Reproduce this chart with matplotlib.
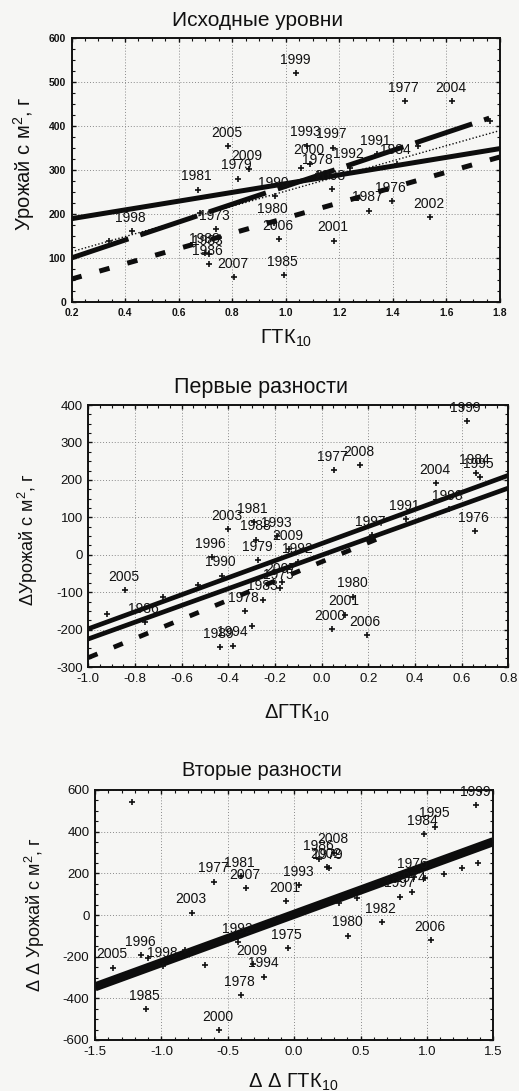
import matplotlib
matplotlib.use("Agg")
import matplotlib.pyplot as plt
from matplotlib.ticker import MultipleLocator, FormatStrFormatter

plt.rcParams['font.family'] = ['Liberation Sans', 'DejaVu Sans']
plt.rcParams['mathtext.fontset'] = 'custom'
plt.rcParams['mathtext.rm'] = 'Liberation Sans'
plt.rcParams['mathtext.it'] = 'Liberation Sans'
plt.rcParams['axes.unicode_minus'] = False

# ---------------- data: panel 1 (Исходные уровни) ----------------
p1_years = ['1999', '1977', '2004', '2005', '1979', '1981', '1998', '1973', '2007',
            '2006', '1980', '1985', '1993', '1997', '1991', '1992', '1978', '2009',
            '1984', '2003', '1987', '1976', '2002', '2001', '1983', '1988', '1986',
            '1990', '2000']
p1_x = [1.04, 1.444, 1.622, 0.785, 0.822, 0.673, 0.425, 0.739, 0.807,
        0.974, 0.955, 0.993, 1.079, 1.176, 1.34, 1.239, 1.122, 0.861,
        1.415, 1.171, 1.31, 1.395, 1.538, 1.18, 0.712, 0.70, 0.712,
        0.96, 1.09]
p1_y = [520, 455, 455, 353, 280, 255, 161, 166, 57,
        143, 180, 61, 355, 350, 336, 305, 291, 302,
        314, 256, 207, 228, 193, 139, 109, 112, 86,
        241, 314]
p1_extra_x = [1.057, 1.494, 1.762, 0.68, 0.34]
p1_extra_y = [303, 355, 410, 202, 138]
p1_solid_x, p1_solid_y = [0.2, 1.8], [189, 348]
p1_band_x, p1_band_y = [0.2, 1.76], [100, 417]
p1_dot_x, p1_dot_y = [0.2, 1.8], [114, 389]
p1_low_x, p1_low_y = [0.2, 1.8], [52, 329]

# ---------------- data: panel 2 (Первые разности) ----------------
p2_years = ['2005', '1986', '2003', '1981', '1988', '1993', '1996', '1990', '1979',
            '2009', '1992', '2007', '1975', '1978', '1983', '1989', '1994', '2000',
            '2006', '1980', '2001', '1977', '2008', '2004', '1999', '1984', '1995',
            '1976', '1991', '1997', '1998']
p2_x = [-0.843, -0.757, -0.40, -0.29, -0.28, -0.19, -0.47, -0.428, -0.271,
        -0.14, -0.10, -0.17, -0.178, -0.33, -0.25, -0.435, -0.378, 0.043,
        0.193, 0.136, 0.10, 0.054, 0.165, 0.489, 0.622, 0.66, 0.679,
        0.657, 0.36, 0.216, 0.545]
p2_y = [-95, -180, 68, 88, 40, 50, -6, -56, -14,
        15, -20, -74, -90, -150, -120, -246, -243, -198,
        -214, -112, -160, 227, 239, 191, 356, 218, 207,
        63, 95, 53, 121]
p2_extra_x = [-0.921, -0.679, -0.529, -0.30]
p2_extra_y = [-158, -112, -81, -191]
p2_up_x, p2_up_y = [-1.0, 0.8], [-198, 212]
p2_lo_x, p2_lo_y = [-1.0, 0.8], [-225, 178]
p2_dash_x, p2_dash_y = [-1.0, 0.25], [-275, 45]

# ---------------- data: panel 3 (Вторые разности) ----------------
p3_years = ['1977', '1981', '2007', '2003', '1993', '2001', '1979', '2008', '1986',
            '2002', '1992', '1975', '2009', '1994', '1978', '1985', '2000', '2005',
            '1996', '1998', '1999', '1995', '1984', '1976', '1974', '1997', '1982',
            '1980', '2006']
p3_x = [-0.6, -0.40, -0.362, -0.77, 0.04, -0.06, 0.263, 0.30, 0.19,
        0.25, -0.42, -0.05, -0.31, -0.225, -0.40, -1.117, -0.568, -1.363,
        -1.15, -0.985, 1.371, 1.063, 0.975, 0.90, 0.888, 0.80, 0.658,
        0.408, 1.03]
p3_y = [160, 187, 128, 11, 144, 67, 226, 299, 267,
        230, -130, -160, -235, -296, -384, -451, -552, -253,
        -192, -245, 528, 424, 387, 182, 112, 88, -35,
        -99, -120]
p3_extra_x = [-1.225, -1.1, -0.825, -0.675, 0.988, 1.125, 1.263, 1.388, 0.475, 0.338]
p3_extra_y = [544, -208, -168, -240, 176, 195, 224, 248, 80, 56]
p3_line_x, p3_line_y = [-1.5, 1.5], [-345, 352]

# ---------------- layout ----------------
W, H = 519, 1091
BG = '#f6f6f4'
fig = plt.figure(figsize=(W / 100, H / 100), dpi=100, facecolor=BG)


def add_ax(l, r, t, b):
    return fig.add_axes([l / W, 1 - b / H, (r - l) / W, (b - t) / H])


def ftext(x, y, s, **kw):
    fig.text(x / W, 1 - y / H, s, **kw)


def style(ax, xlim, ylim, xmaj, xmin, ymaj, ymin, xfmt, tfs, bold=False):
    ax.set_facecolor(BG)
    ax.set_xlim(*xlim)
    ax.set_ylim(*ylim)
    ax.xaxis.set_major_locator(MultipleLocator(xmaj))
    ax.xaxis.set_minor_locator(MultipleLocator(xmin))
    ax.yaxis.set_major_locator(MultipleLocator(ymaj))
    ax.yaxis.set_minor_locator(MultipleLocator(ymin))
    ax.xaxis.set_major_formatter(FormatStrFormatter(xfmt))
    ax.yaxis.set_major_formatter(FormatStrFormatter('%d'))
    ax.tick_params(which='both', direction='in', top=True, right=True,
                   color='#111111')
    ax.tick_params(which='major', length=3, width=1, labelsize=tfs, pad=4,
                   labelcolor='#111111')
    ax.tick_params(which='minor', length=2, width=0.8)
    if bold:
        for lab in ax.get_xticklabels() + ax.get_yticklabels():
            lab.set_fontweight('bold')
    ax.grid(True, which='major', color='#8a8a8a', linestyle=(0, (1, 2)),
            linewidth=0.7)
    for sp in ax.spines.values():
        sp.set_linewidth(1.4)
        sp.set_color('#111111')
    ax.set_axisbelow(True)


def points(ax, years, xs, ys, ex, ey):
    ax.plot(xs, ys, linestyle='none', marker='+', markersize=5, mew=1.2,
            color='#111111', zorder=3)
    ax.plot(ex, ey, linestyle='none', marker='+', markersize=5, mew=1.2,
            color='#111111', zorder=3)
    for yr, x, y in zip(years, xs, ys):
        t = ax.annotate(yr, (x, y), xytext=(-1, 4.5), textcoords='offset points',
                        ha='center', va='bottom', fontsize=10, color='#111111',
                        zorder=4, annotation_clip=False)
        t.set_clip_on(True)


LC = '#0d0d0d'

# ---- panel 1 ----
ax1 = add_ax(71.5, 500, 37.5, 302)
style(ax1, (0.2, 1.8), (0, 600), 0.2, 0.05, 100, 25, '%.1f', 7.5, bold=True)
ax1.plot(p1_solid_x, p1_solid_y, color=LC, lw=3.6, solid_capstyle='butt', zorder=2)
ax1.plot(p1_band_x, p1_band_y, color=LC, lw=3.6, linestyle=(0, (12, 2.5)), zorder=2)
ax1.plot(p1_dot_x, p1_dot_y, color=LC, lw=1.0, linestyle=(0, (1, 1.5)), zorder=2)
ax1.plot(p1_low_x, p1_low_y, color=LC, lw=3.6, linestyle=(0, (2.1, 3.7)), zorder=2)
points(ax1, p1_years, p1_x, p1_y, p1_extra_x, p1_extra_y)
ftext(258, 21, 'Исходные уровни', ha='center', va='center', fontsize=15, color='#111111')
ftext(286, 338, 'ГТК$_{10}$', ha='center', va='center', fontsize=14.5, color='#111111')
ftext(24, 164, 'Урожай с м$^{2}$, г', ha='center', va='center', rotation=90,
      fontsize=14.5, color='#111111')

# ---- panel 2 ----
ax2 = add_ax(88.3, 508.3, 405, 667)
style(ax2, (-1.0, 0.8), (-300, 400), 0.2, 0.05, 100, 25, '%.1f', 9.5)
ax2.plot(p2_up_x, p2_up_y, color=LC, lw=3.4, zorder=2)
ax2.plot(p2_lo_x, p2_lo_y, color=LC, lw=3.4, zorder=2)
ax2.plot(p2_dash_x, p2_dash_y, color=LC, lw=3.4, linestyle=(0, (2.1, 3.7)), zorder=2)
points(ax2, p2_years, p2_x, p2_y, p2_extra_x, p2_extra_y)
ftext(261, 387, 'Первые разности', ha='center', va='center', fontsize=15.5, color='#111111')
ftext(297, 713, 'ΔГТК$_{10}$', ha='center', va='center', fontsize=14.5, color='#111111')
ftext(28, 540, 'ΔУрожай с м$^{2}$, г', ha='center', va='center', rotation=90,
      fontsize=13, color='#111111')

# ---- panel 3 ----
ax3 = add_ax(95, 493.3, 790, 1040)
style(ax3, (-1.5, 1.5), (-600, 600), 0.5, 0.1, 200, 50, '%.1f', 9.5)
ax3.plot(p3_line_x, p3_line_y, color=LC, lw=6.5, solid_capstyle='butt', zorder=2)
points(ax3, p3_years, p3_x, p3_y, p3_extra_x, p3_extra_y)
ftext(262, 770, 'Вторые разности', ha='center', va='center', fontsize=14.5, color='#111111')
ftext(293, 1082, 'Δ Δ ГТК$_{10}$', ha='center', va='center', fontsize=14.5, color='#111111')
ftext(35, 915, 'Δ Δ Урожай с м$^{2}$, г', ha='center', va='center', rotation=90,
      fontsize=13, color='#111111')

fig.savefig('out.png', dpi=100, facecolor=BG)
